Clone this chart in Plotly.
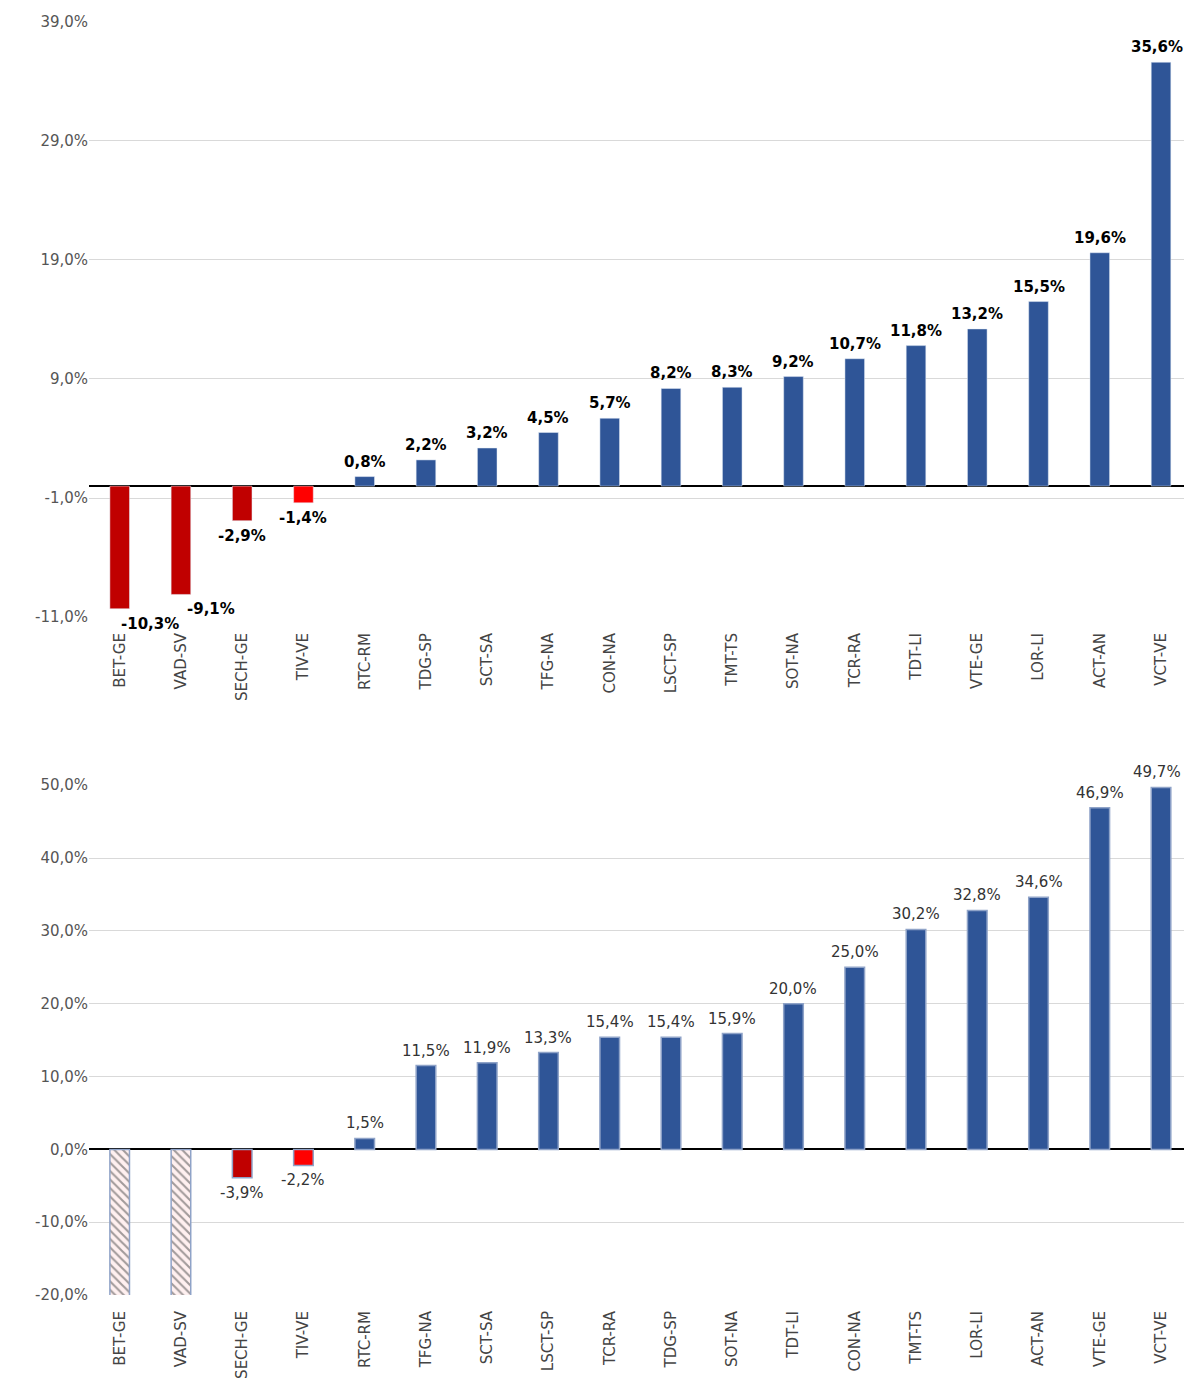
import plotly.graph_objects as go

# grafico superiore
cat_top = ["BET-GE", "VAD-SV", "SECH-GE", "TIV-VE", "RTC-RM", "TDG-SP", "SCT-SA", "TFG-NA", "CON-NA",
           "LSCT-SP", "TMT-TS", "SOT-NA", "TCR-RA", "TDT-LI", "VTE-GE", "LOR-LI", "ACT-AN", "VCT-VE"]
val_top = [-10.3, -9.1, -2.9, -1.4, 0.8, 2.2, 3.2, 4.5, 5.7, 8.2, 8.3, 9.2, 10.7, 11.8, 13.2, 15.5, 19.6, 35.6]
col_top = ["#C00000", "#C00000", "#C00000", "#FF0000"] + ["#2F5597"] * 14

# grafico inferiore (BET-GE e VAD-SV fuori scala)
cat_bot = ["BET-GE", "VAD-SV", "SECH-GE", "TIV-VE", "RTC-RM", "TFG-NA", "SCT-SA", "LSCT-SP", "TCR-RA",
           "TDG-SP", "SOT-NA", "TDT-LI", "CON-NA", "TMT-TS", "LOR-LI", "ACT-AN", "VTE-GE", "VCT-VE"]
val_bot = [-25, -25, -3.9, -2.2, 1.5, 11.5, 11.9, 13.3, 15.4, 15.4, 15.9, 20.0, 25.0, 30.2, 32.8, 34.6, 46.9, 49.7]
lab_bot = [None, None] + val_bot[2:]
col_bot = ["#FFF0F0", "#FFF0F0", "#C00000", "#FF0000"] + ["#2F5597"] * 14
hatch_bot = ["\\", "\\"] + [""] * 16

top_ticks = [-11, -1, 9, 19, 29, 39]
bot_ticks = [-20, -10, 0, 10, 20, 30, 40, 50]


def pct(v):
    return f"{v:.1f}%".replace(".", ",")


fig = go.Figure()
fig.add_trace(go.Bar(x=cat_top, y=val_top, marker_color=col_top, width=0.32, xaxis="x", yaxis="y"))
fig.add_trace(go.Bar(x=cat_bot, y=val_bot, width=0.32, xaxis="x2", yaxis="y2",
                     marker=dict(color=col_bot, line=dict(color="#8FA3C8", width=1.5),
                                 pattern=dict(shape=hatch_bot, fgcolor="#D03030", fillmode="overlay",
                                              size=6, solidity=0.35))))

n = len(cat_top)
ann = []
for i, (c, v) in enumerate(zip(cat_top, val_top)):
    xs = 30 if i < 2 else (-4 if i == n - 1 else 0)
    ann.append(dict(x=c, y=v, xref="x", yref="y", text=pct(v), showarrow=False,
                    yanchor="bottom" if v > 0 else "top", yshift=4 if v > 0 else -4, xshift=xs,
                    font=dict(size=15, color="black", family="DejaVu Sans", weight="bold")))
for i, (c, v) in enumerate(zip(cat_bot, lab_bot)):
    if v is None:
        continue
    ann.append(dict(x=c, y=v, xref="x2", yref="y2", text=pct(v), showarrow=False,
                    yanchor="bottom" if v > 0 else "top", yshift=4 if v > 0 else -4,
                    xshift=-4 if i == n - 1 else 0,
                    font=dict(size=15, color="#333333", family="DejaVu Sans")))

ax = dict(showgrid=False, tickangle=-90, tickfont=dict(size=15, color="#444444", family="DejaVu Sans"),
          domain=[0.068, 0.993], showline=False, ticks="", automargin=False, range=[-0.5, 17.5],
          ticklabelstandoff=12)
ay = dict(gridcolor="#D9D9D9", zeroline=True, zerolinecolor="black", zerolinewidth=2, automargin=False,
          tickfont=dict(size=15, color="#555555", family="DejaVu Sans"))

fig.update_layout(
    width=1192, height=1378, margin=dict(l=0, r=0, t=0, b=0),
    plot_bgcolor="white", paper_bgcolor="white", showlegend=False,
    xaxis=dict(ax, anchor="y"),
    yaxis=dict(ay, domain=[0.558, 0.990], range=[-11, 39], tickvals=top_ticks,
               ticktext=[pct(t) for t in top_ticks], anchor="x"),
    xaxis2=dict(ax, anchor="y2"),
    yaxis2=dict(ay, domain=[0.066, 0.436], range=[-20, 50], tickvals=bot_ticks,
                ticktext=[pct(t) for t in bot_ticks], anchor="x2"),
    annotations=ann,
)

fig.write_html("out.html")
